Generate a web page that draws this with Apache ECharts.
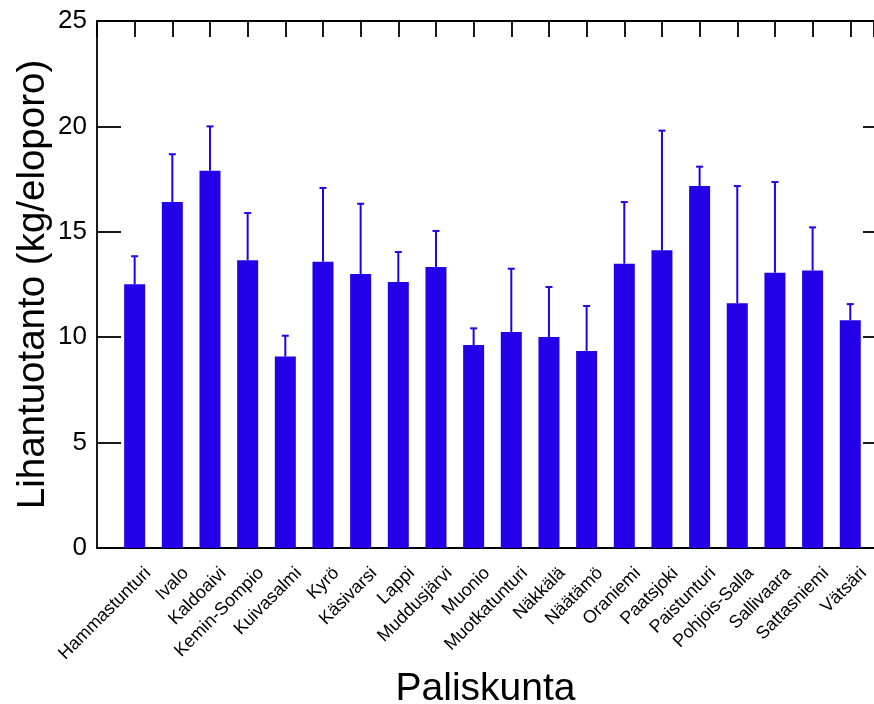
<!DOCTYPE html>
<html>
<head>
<meta charset="utf-8">
<script src="https://cdn.jsdelivr.net/npm/echarts@6/dist/echarts.min.js"></script>
<style>
html,body{margin:0;padding:0;background:#fff;}
#chart{width:874px;height:704px;}
</style>
</head>
<body>
<div id="chart"></div>
<script>
const categories = ["Hammastunturi","Ivalo","Kaldoaivi","Kemin-Sompio","Kuivasalmi","Kyrö","Käsivarsi","Lappi","Muddusjärvi","Muonio","Muotkatunturi","Näkkälä","Näätämö","Oraniemi","Paatsjoki","Paistunturi","Pohjois-Salla","Sallivaara","Sattasniemi","Vätsäri"];
const means = [12.51,16.41,17.90,13.65,9.08,13.58,13.00,12.62,13.33,9.63,10.25,10.01,9.35,13.49,14.12,17.17,11.61,13.06,13.17,10.80];
const errors = [1.33,2.27,2.10,2.24,0.99,3.50,3.33,1.42,1.71,0.79,3.00,2.37,2.13,2.92,5.68,0.92,5.56,4.30,2.04,0.77];
const yTicks = [0,5,10,15,20,25];

const FONT = "Liberation Sans, Arial, sans-serif";
const BAR = "#2400E8";
const X_MAX = 20.63;

const barData = categories.map((c,i)=>[i+1, means[i]]);
const errData = categories.map((c,i)=>[i+1, means[i], means[i]+errors[i]]);

const lineStyle = {color:'#000', width:1.8};

const chart = echarts.init(document.getElementById('chart'), null, {renderer:'canvas'});
chart.setOption({
  animation:false,
  backgroundColor:'#fff',
  grid:{left:97, top:21, right:0, bottom:156, containLabel:false, outerBoundsMode:'none'},
  xAxis:[{
    type:'value', min:0, max:X_MAX, interval:1, position:'bottom',
    name:'Paliskunta', nameLocation:'middle', nameGap:122, nameMoveOverlap:false,
    nameTextStyle:{fontFamily:FONT, fontSize:39, color:'#000'},
    axisLine:{show:true, onZero:false, lineStyle:lineStyle},
    axisTick:{show:false},
    splitLine:{show:false},
    axisLabel:{
      rotate:45, margin:9, align:'right', verticalAlign:'top', padding:[10,0,0,0],
      fontFamily:FONT, fontSize:18, color:'#000', showMinLabel:true, showMaxLabel:true,
      formatter:function(v){ const i=Math.round(v); return (Math.abs(v-i)<1e-6 && i>=1 && i<=categories.length)? categories[i-1] : ''; }
    }
  },{
    type:'value', min:0, max:X_MAX, interval:1, position:'top',
    axisLine:{show:true, onZero:false, lineStyle:lineStyle},
    axisTick:{show:true, inside:true, length:16, lineStyle:lineStyle},
    axisLabel:{show:false}, splitLine:{show:false}
  }],
  yAxis:[{
    type:'value', min:yTicks[0], max:yTicks[yTicks.length-1], interval:5, position:'left',
    name:'Lihantuotanto (kg/eloporo)', nameLocation:'middle', nameGap:44, nameMoveOverlap:false,
    nameTextStyle:{fontFamily:FONT, fontSize:38.5, color:'#000'},
    axisLine:{show:true, onZero:false, lineStyle:lineStyle},
    axisTick:{show:true, inside:true, length:24, lineStyle:lineStyle},
    axisLabel:{fontFamily:FONT, fontSize:26, color:'#000', margin:10},
    splitLine:{show:false}
  },{
    type:'value', min:yTicks[0], max:yTicks[yTicks.length-1], interval:5, position:'right', offset:13,
    axisLine:{show:true, onZero:false, lineStyle:lineStyle},
    axisTick:{show:true, inside:true, length:24, lineStyle:lineStyle},
    axisLabel:{show:false}, splitLine:{show:false}
  }],
  series:[{
    type:'bar', xAxisIndex:1, yAxisIndex:0, data:barData, barWidth:21,
    itemStyle:{color:BAR}
  },{
    type:'custom', xAxisIndex:1, yAxisIndex:0, data:errData, z:3,
    renderItem:function(params, api){
      const x = api.value(0);
      const p0 = api.coord([x, api.value(1)]);
      const p1 = api.coord([x, api.value(2)]);
      const style = {stroke:BAR, lineWidth:2};
      return {type:'group', children:[
        {type:'line', shape:{x1:p0[0], y1:p0[1], x2:p1[0], y2:p1[1]}, style:style},
        {type:'line', shape:{x1:p1[0]-3.5, y1:p1[1], x2:p1[0]+3.5, y2:p1[1]}, style:style}
      ]};
    }
  }]
});
</script>
</body>
</html>
